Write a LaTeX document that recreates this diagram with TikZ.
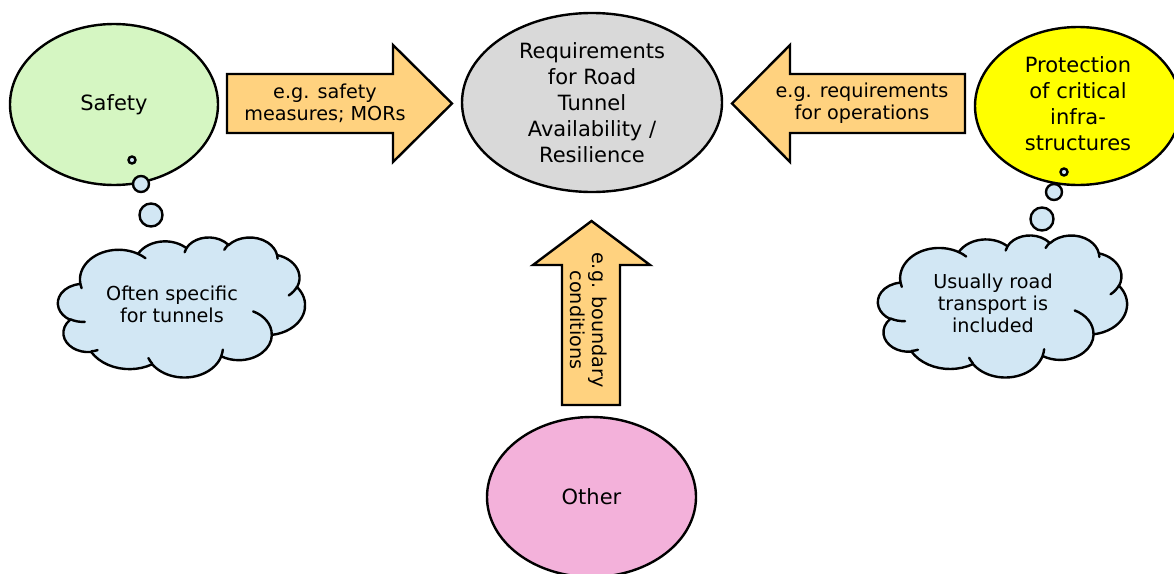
\documentclass[tikz,border=0pt]{standalone}
\usepackage{fontspec}
\setmainfont{DejaVu Sans}
\usetikzlibrary{shapes.geometric}
\definecolor{safetygreen}{HTML}{D5F6C2}
\definecolor{cloudblue}{HTML}{D2E7F4}
\definecolor{reqgray}{HTML}{D9D9D9}
\definecolor{protyellow}{HTML}{FFFF00}
\definecolor{otherpink}{HTML}{F3B1DA}
\definecolor{arrowpeach}{HTML}{FFD27F}
% outline of a thought cloud in a 432 x 432 box
\newcommand\cloudoutline{%
  (39,143.7)
  arc[start angle=-187.75,delta angle=128.11,x radius=67.53,y radius=91.90]
  arc[start angle=-152.02,delta angle=106.56,x radius=53.33,y radius=72.67]
  arc[start angle=-153.48,delta angle=116.15,x radius=43.65,y radius=59.45]
  arc[start angle=-139.71,delta angle=129.49,x radius=48.57,y radius=65.95]
  arc[start angle=-74.77,delta angle=97.98,x radius=53.33,y radius=72.73]
  arc[start angle=-37.53,delta angle=119.39,x radius=67.75,y radius=92.20]
  arc[start angle=0.46,delta angle=121.54,x radius=57.85,y radius=78.67]
  arc[start angle=16.85,delta angle=129.37,x radius=67.52,y radius=92.15]
  arc[start angle=59.00,delta angle=91.17,x radius=77.20,y radius=105.43]
  arc[start angle=-276.69,delta angle=139.80,x radius=43.60,y radius=59.18]
  arc[start angle=-239.63,delta angle=143.74,x radius=43.45,y radius=59.45]
  -- cycle}
% the short inner arcs where the puffs overlap
\newcommand\cloudfolds{%
  (46.93,261.77) arc[start angle=85.55,delta angle=34.83,x radius=43.45,y radius=59.45]
  (69.28,348.99) arc[start angle=68.25,delta angle=15.06,x radius=43.60,y radius=59.18]
  (164.78,390.90) arc[start angle=146.22,delta angle=12.25,x radius=67.52,y radius=92.15]
  (288.27,347.51) arc[start angle=4.74,delta angle=12.11,x radius=67.52,y radius=92.15]
  (341.29,229.54) arc[start angle=-64.02,delta angle=64.48,x radius=57.85,y radius=78.67]
  (417.98,153.54) arc[start angle=23.21,delta angle=26.44,x radius=53.33,y radius=72.73]
  (383.24,54.26) arc[start angle=-10.22,delta angle=11.04,x radius=48.57,y radius=65.95]
  (290.78,39.52) arc[start angle=-156.28,delta angle=16.57,x radius=48.57,y radius=65.95]
  (221.41,47.20) arc[start angle=-167.73,delta angle=14.25,x radius=43.65,y radius=59.45]
  (140.00,51.92) arc[start angle=-59.64,delta angle=13.92,x radius=67.53,y radius=91.90]
  (41.27,157.89) arc[start angle=163.19,delta angle=9.06,x radius=67.53,y radius=91.90]}
\begin{document}
\begin{tikzpicture}[x=1pt,y=-1pt,
  outline/.style={draw=black,line width=2.4pt},
  bubble/.style={ellipse,outline,inner sep=0pt},
  puff/.style={circle,outline,fill=cloudblue,inner sep=0pt},
  cloudbody/.style={outline,fill=cloudblue,line join=round},
  cloudfold/.style={outline,line cap=round},
  blockarrow/.style={outline,fill=arrowpeach,line join=miter},
  bigtext/.style={align=center,font=\fontsize{21}{26}\selectfont},
  smalltext/.style={align=center,font=\fontsize{19.2}{22}\selectfont}]
\useasboundingbox (0,0) rectangle (1174,573);
\clip (0,0) rectangle (1174,573);

% block arrows pointing at the central requirement
\draw[blockarrow] (227,74) -- (393,74) -- (393,45) -- (452,103.5) -- (393,162) -- (393,133) -- (227,133) -- cycle;
\draw[blockarrow] (965,74) -- (790,74) -- (790,45) -- (732,103.5) -- (790,162) -- (790,133) -- (965,133) -- cycle;
\draw[blockarrow] (591.5,221) -- (650,265) -- (620,265) -- (620,405) -- (562,405) -- (562,265) -- (533,265) -- cycle;

\node[smalltext] (lbl-safety) at (325,103) {e.g. safety\\measures; MORs};
\node[smalltext] (lbl-ops) at (862,103) {e.g. requirements\\for operations};
\node[smalltext,rotate=-90] (lbl-bound) at (589,320) {e.g. boundary\\conditions};

% main ellipses
\node[bubble,fill=reqgray,minimum width=260,minimum height=179] (req) at (592,102.5) {};
\node[bigtext] (req-text) at (req.center) {Requirements\\for Road\\Tunnel\\Availability /\\Resilience};

\node[bubble,fill=safetygreen,minimum width=208,minimum height=161] (safety) at (114,104.5) {};
\node[bigtext] (safety-text) at (safety.center) {Safety};

\node[bubble,fill=protyellow,minimum width=206,minimum height=158] (prot) at (1078,106) {};
\node[bigtext] (prot-text) at (1078,104) {Protection\\of critical\\infra-\\structures};

\node[bubble,fill=otherpink,minimum width=209,minimum height=160] (other) at (591.5,497) {};
\node[bigtext] (other-text) at (other.center) {Other};

% thought bubbles and clouds
\node[puff,minimum size=7] (sp1) at (132,160) {};
\node[puff,minimum size=16] (sp2) at (141,184) {};
\node[puff,minimum size=23] (sp3) at (151,215) {};
\begin{scope}[shift={(58,237)},xscale=0.5718,yscale=0.3241]
  \draw[cloudbody] \cloudoutline;
  \draw[cloudfold] \cloudfolds;
  \coordinate (scloud) at (216,216);
\end{scope}
\node[smalltext] (scloud-text) at (172,304) {Often specific\\for tunnels};

\node[puff,minimum size=7] (pp1) at (1064,172) {};
\node[puff,minimum size=16] (pp2) at (1054,192) {};
\node[puff,minimum size=23] (pp3) at (1042,219) {};
\begin{scope}[shift={(878,235)},xscale=0.5764,yscale=0.3287]
  \draw[cloudbody] \cloudoutline;
  \draw[cloudfold] \cloudfolds;
  \coordinate (pcloud) at (216,216);
\end{scope}
\node[smalltext] (pcloud-text) at (993,303) {Usually road\\transport is\\included};
\end{tikzpicture}
\end{document}
